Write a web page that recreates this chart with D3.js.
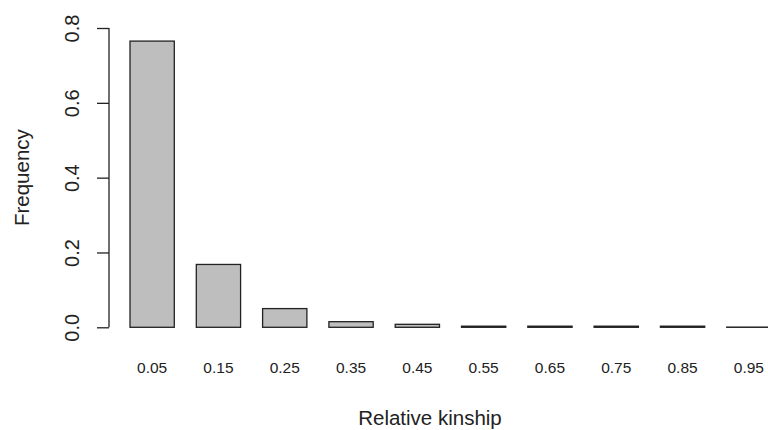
<!DOCTYPE html>
<html>
<head>
<meta charset="utf-8">
<script src="https://cdn.jsdelivr.net/npm/d3@7"></script>
<style>
  html, body { margin: 0; padding: 0; background: #fff; }
  svg { display: block; font-family: "Liberation Sans", Arial, sans-serif; }
</style>
</head>
<body>
<svg id="chart" width="768" height="430"></svg>
<script>
const categories = ["0.05", "0.15", "0.25", "0.35", "0.45", "0.55", "0.65", "0.75", "0.85", "0.95"];
const frequencies = [0.765, 0.168, 0.050, 0.015, 0.008, 0.003, 0.003, 0.003, 0.003, 0.0005];
const yTicks = [0, 0.2, 0.4, 0.6, 0.8];
const xTitle = "Relative kinship";
const yTitle = "Frequency";

const svg = d3.select("#chart");

const x = d3.scaleBand()
  .domain(categories)
  .range([130, 771])
  .paddingInner(0.332)
  .paddingOuter(0);

const y = d3.scaleLinear()
  .domain([0, 0.8])
  .range([327.3, 28]);

// bars
svg.append("g")
  .selectAll("rect")
  .data(categories.map((c, i) => ({ c, v: frequencies[i] })))
  .join("rect")
  .attr("x", d => x(d.c))
  .attr("y", d => y(d.v))
  .attr("width", x.bandwidth())
  .attr("height", d => y(0) - y(d.v))
  .attr("fill", "#bebebe")
  .attr("stroke", "#222")
  .attr("stroke-width", 1.3);

// y axis
const yAxis = svg.append("g")
  .attr("transform", "translate(109,0)")
  .call(d3.axisLeft(y).tickValues(yTicks).tickSize(12).tickFormat(d3.format(".1f")));
yAxis.select(".domain").attr("stroke", "#222").attr("stroke-width", 1.3)
  .attr("d", `M0,${y(0)}V${y(0.8)}`);
yAxis.selectAll(".tick line").attr("stroke", "#222").attr("stroke-width", 1.3);
yAxis.selectAll(".tick text")
  .attr("x", null).attr("dy", null)
  .attr("transform", "translate(-30,0) rotate(-90)")
  .attr("text-anchor", "middle")
  .attr("fill", "#222")
  .style("font-size", "20px")
  .style("font-family", "'Liberation Sans', Arial, sans-serif");

// x labels (no axis line, like R barplot names)
const xAxis = svg.append("g")
  .attr("transform", `translate(0,${y(0)})`)
  .call(d3.axisBottom(x).tickSize(0).tickPadding(0));
xAxis.select(".domain").remove();
xAxis.selectAll(".tick text")
  .attr("y", 46)
  .attr("dy", null)
  .attr("fill", "#222")
  .style("font-size", "15.5px")
  .style("font-family", "'Liberation Sans', Arial, sans-serif");

// titles
svg.append("text")
  .attr("x", 430)
  .attr("y", 425)
  .attr("text-anchor", "middle")
  .attr("fill", "#222")
  .style("font-size", "20.5px")
  .text(xTitle);

svg.append("text")
  .attr("transform", `translate(29,${(y(0) + y(0.8)) / 2}) rotate(-90)`)
  .attr("text-anchor", "middle")
  .attr("fill", "#222")
  .style("font-size", "20.5px")
  .text(yTitle);
</script>
</body>
</html>
